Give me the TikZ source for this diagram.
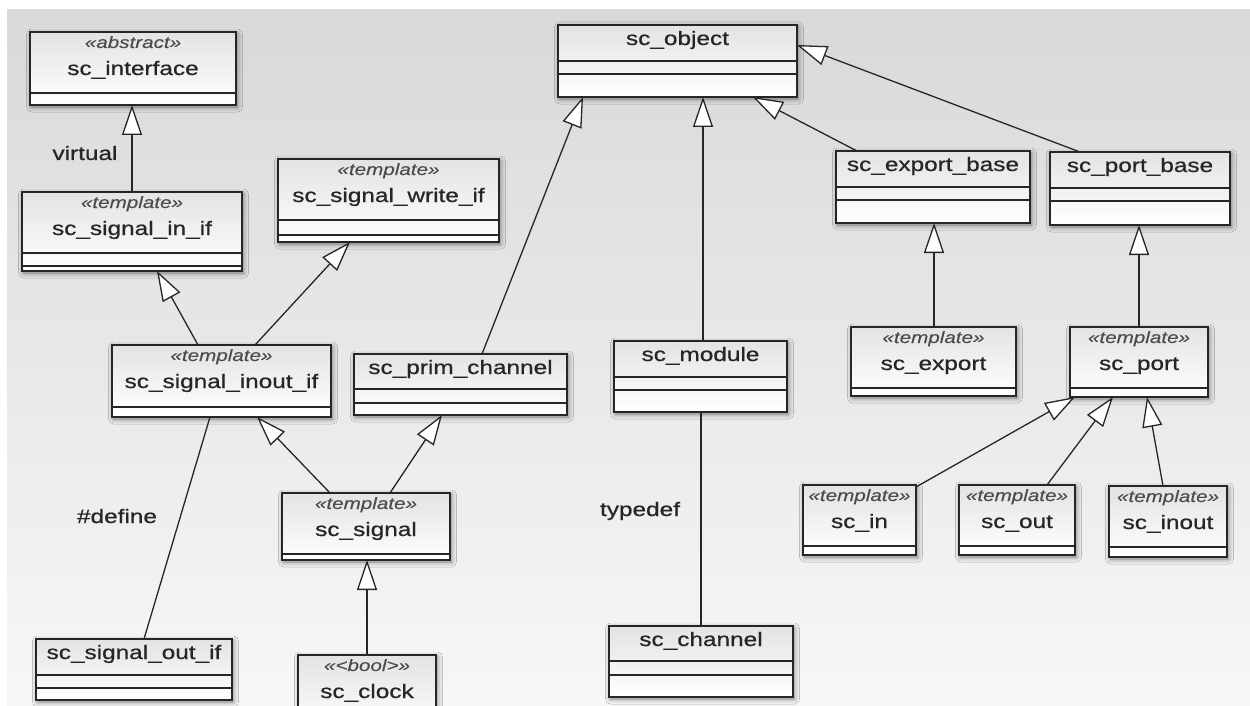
\documentclass[tikz,border=0pt]{standalone}
\usepackage{fontspec}
\newfontfamily\umlfont{Liberation Sans}[FakeStretch=1.25, FakeBold=0.7]
\newfontfamily\umlsfont{Liberation Sans}[FakeStretch=1.25, FakeBold=0.3]
\usetikzlibrary{arrows.meta,shadows.blur,calc}
\tikzset{
 umlbox/.style={draw=black!85, line width=1.8pt, top color=black!11, bottom color=white, inner sep=0pt, outer sep=0pt,
   blur shadow={shadow xshift=1.5pt, shadow yshift=-2pt, shadow blur radius=5pt, shadow opacity=50}},
 sepline/.style={draw=black!85, line width=1.4pt},
 nametext/.style={font=\umlfont\fontsize{19.5}{22}\selectfont, text=black!85, anchor=base, inner sep=0pt},
 stereotext/.style={font=\umlsfont\itshape\fontsize{16.5}{18}\selectfont, text=black!70, anchor=base, inner sep=0pt},
 gen/.style={draw=black!85, line width=1.3pt, -{Triangle[fill=white, length=30pt, width=20pt]}},
 assoc/.style={draw=black!85, line width=1.3pt},
 lbl/.style={font=\umlfont\fontsize{19.5}{22}\selectfont, text=black!85, anchor=base, inner sep=0pt}
}
% #1 name, #2 x1, #3 y1, #4 x2, #5 y2, #6 sep1, #7 sep2, #8 stereotype, #9 class name
\newcommand\umlc[9]{%
 \node[umlbox, minimum width={(#4)-(#2)}, minimum height={(#5)-(#3)}] (#1) at ({((#2)+(#4))/2},{((#3)+(#5))/2}) {};
 \draw[sepline] (#2,#6) -- (#4,#6);
 \draw[sepline] (#2,#7) -- (#4,#7);
 \if\relax\detokenize{#8}\relax
   \node[nametext] (#1-n) at ({((#2)+(#4))/2},{(#3)+20}) {#9};
 \else
   \node[stereotext] (#1-s) at ({((#2)+(#4))/2},{(#3)+16}) {«#8»};
   \node[nametext] (#1-n) at ({((#2)+(#4))/2},{(#3)+43}) {#9};
 \fi
}
\begin{document}
\begin{tikzpicture}[x=1pt,y=-1pt]
\useasboundingbox (0,0) rectangle (1250,706);
\fill[white] (0,0) rectangle (1250,706);
\shade[top color=black!15, bottom color=black!3] (7,10) rectangle (1250,706);

\umlc{iface}{30}{32}{236}{105}{93}{93}{abstract}{sc\_interface}
\umlc{sigin}{22}{192}{242}{271}{253}{266}{template}{sc\_signal\_in\_if}
\umlc{wif}{278}{159}{499}{242}{220}{235}{template}{sc\_signal\_write\_if}
\umlc{inout}{112}{345}{331}{417}{407}{417}{template}{sc\_signal\_inout\_if}
\umlc{prim}{354}{354}{567}{415}{389}{403}{}{sc\_prim\_channel}
\umlc{signal}{282}{493}{450}{560}{554}{560}{template}{sc\_signal}
\umlc{clock}{298}{655}{436}{730}{720}{730}{<bool>}{sc\_clock}
\umlc{outif}{36}{639}{232}{700}{675}{688}{}{sc\_signal\_out\_if}
\umlc{object}{558}{25}{797}{97}{61}{74}{}{sc\_object}
\umlc{expbase}{836}{151}{1030}{223}{187}{200}{}{sc\_export\_base}
\umlc{portbase}{1050}{152}{1230}{225}{188}{201}{}{sc\_port\_base}
\umlc{module}{614}{341}{787}{412}{377}{390}{}{sc\_module}
\umlc{channel}{609}{626}{793}{697}{661}{675}{}{sc\_channel}
\umlc{export}{851}{327}{1016}{396}{388}{396}{template}{sc\_export}
\umlc{port}{1070}{327}{1208}{397}{388}{397}{template}{sc\_port}
\umlc{cin}{803}{485}{916}{555}{546}{555}{template}{sc\_in}
\umlc{cout}{959}{485}{1075}{555}{546}{555}{template}{sc\_out}
\umlc{cinout}{1109}{486}{1227}{557}{547}{557}{template}{sc\_inout}

% connectors
\draw[gen] (sigin.north) -- (sigin.north |- iface.south);
\draw[gen] ([xshift=86pt]inout.north west) -- ([xshift=135pt]sigin.south west);
\draw[gen] ([xshift=143pt]inout.north west) -- ([xshift=72pt]wif.south west);
\draw[assoc] ([xshift=108pt]outif.north west) -- ([xshift=98pt]inout.south west);
\draw[gen] ([xshift=48pt]signal.north west) -- ([xshift=145pt]inout.south west);
\draw[gen] ([xshift=108pt]signal.north west) -- ([xshift=88pt]prim.south west);
\draw[gen] (clock.north) -- (clock.north |- signal.south);
\draw[gen] ([xshift=128pt]prim.north west) -- ([xshift=25pt]object.south west);
\draw[gen] ([xshift=89pt]module.north west) -- ([xshift=89pt]module.north west |- object.south);
\draw[assoc] (channel.north) -- (channel.north |- module.south);
\draw[gen] ([xshift=21pt]expbase.north west) -- ([xshift=195pt]object.south west);
\draw[gen] ([xshift=30pt]portbase.north west) -- ([yshift=-20pt]object.north east);
\draw[gen] ([xshift=0.5pt]export.north) -- ([xshift=0.5pt]export.north |- expbase.south);
\draw[gen] (port.north) -- (port.north |- portbase.south);
\draw[gen] ([yshift=-2pt]cin.north east) -- ([xshift=5pt]port.south west);
\draw[gen] ([xshift=88pt]cout.north west) -- ([xshift=43pt]port.south west);
\draw[gen] ([xshift=54pt]cinout.north west) -- ([xshift=77pt]port.south west);

% labels
\node[lbl] (lvirtual) at (85,160) {virtual};
\node[lbl] (ldefine) at (117,523) {\#define};
\node[lbl] (ltypedef) at (640,516) {typedef};
\end{tikzpicture}
\end{document}
